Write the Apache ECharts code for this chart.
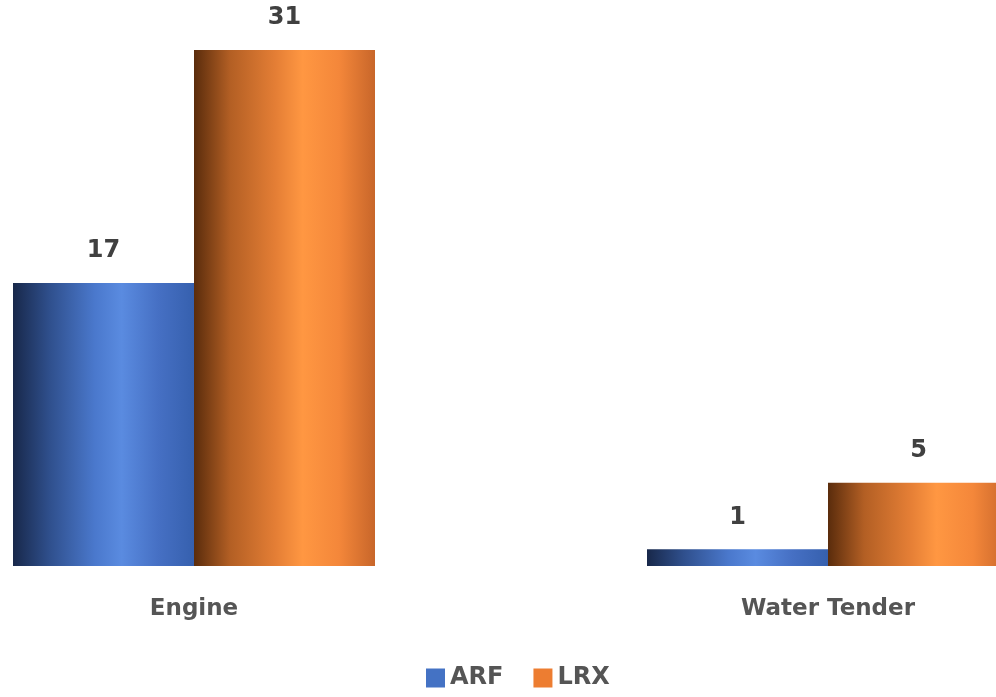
<!DOCTYPE html>
<html><head><meta charset="utf-8">
<script src="https://cdn.jsdelivr.net/npm/echarts@6/dist/echarts.min.js"></script>
<style>html,body{margin:0;padding:0;background:#fff}#c{width:996px;height:697px}</style>
</head><body><div id="c"></div>
<script>
const categories = ['Engine', 'Water Tender'];
const arfValues = [17, 1];
const lrxValues = [31, 5];
const seriesNames = ['ARF', 'LRX'];

const font = 'DejaVu Sans';
const txt = '#404040';
function grad(stops){
  return new echarts.graphic.LinearGradient(0,0,1,0, stops.map(s=>({offset:s[0], color:s[1]})));
}
const blueGrad = grad([[0,'#18284a'],[0.2,'#2f4f8c'],[0.45,'#4a78cc'],[0.6,'#5a8be0'],[0.8,'#4670c4'],[1,'#3660ae']]);
const orangeGrad = grad([[0,'#5a2c0c'],[0.2,'#b35f24'],[0.45,'#e47e35'],[0.6,'#ff9742'],[0.8,'#f4873a'],[1,'#c8662a']]);

const chart = echarts.init(document.getElementById('c'));
chart.setOption({
  animation:false,
  legend:{
    bottom:2, left:421, itemWidth:19, itemHeight:19, itemGap:30, icon:'rect',
    textStyle:{fontFamily:font, fontSize:24, fontWeight:'bold', color:'#555'},
    data:[{name:'ARF', itemStyle:{color:'#4472c4'}},{name:'LRX', itemStyle:{color:'#ed7d31'}}]
  },
  grid:{left:-123, right:-149, top:50, bottom:131, containLabel:false, outerBoundsMode:'none'},
  xAxis:{type:'category', data:categories,
    axisLine:{show:false}, axisTick:{show:false},
    axisLabel:{margin:32, fontFamily:font, fontSize:23, fontWeight:'bold', color:'#555'}},
  yAxis:{type:'value', min:0, max:31, show:false, splitLine:{show:false}},
  series:[
    {name:seriesNames[0], type:'bar', data:arfValues, barWidth:181, barGap:'0%',
     itemStyle:{color:blueGrad},
     label:{show:true, position:'top', distance:20, fontFamily:font, fontSize:24, fontWeight:'bold', color:txt}},
    {name:seriesNames[1], type:'bar', data:lrxValues, barWidth:181, barGap:'0%',
     itemStyle:{color:orangeGrad},
     label:{show:true, position:'top', distance:20, fontFamily:font, fontSize:24, fontWeight:'bold', color:txt}}
  ]
});
</script></body></html>
